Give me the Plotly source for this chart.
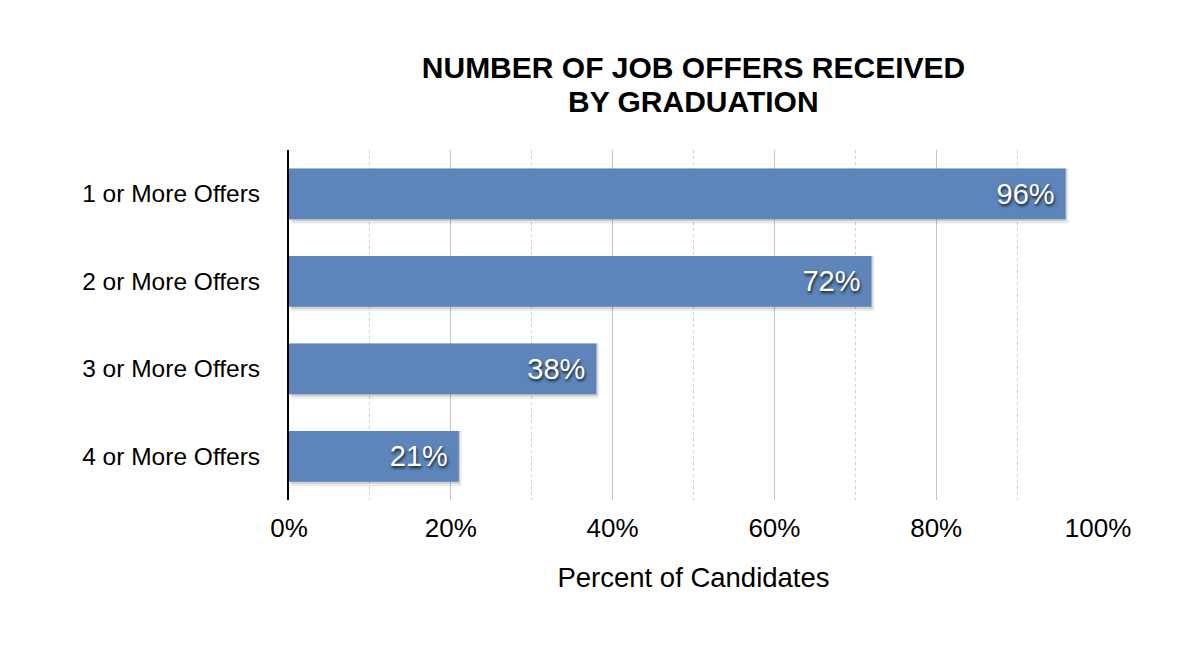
import plotly.graph_objects as go

categories = ["1 or More Offers", "2 or More Offers", "3 or More Offers", "4 or More Offers"]
percents = [96, 72, 38, 21]
tick_values = [0, 20, 40, 60, 80, 100]
tick_labels = ["0%", "20%", "40%", "60%", "80%", "100%"]

FONT = "Liberation Sans, Arial, Helvetica, sans-serif"
BAR_COLOR = "#5D85B9"

fig = go.Figure()

# soft drop shadow behind each bar
fig.add_trace(go.Bar(
    y=categories, x=percents, base=0.35, orientation="h",
    width=0.63, offset=-0.29,
    marker=dict(color="rgba(0,0,0,0.08)", line=dict(width=0)),
    hoverinfo="skip", showlegend=False,
))
fig.add_trace(go.Bar(
    y=categories, x=percents, base=0.15, orientation="h",
    width=0.605, offset=-0.29,
    marker=dict(color="rgba(0,0,0,0.12)", line=dict(width=0)),
    hoverinfo="skip", showlegend=False,
))

fig.add_trace(go.Bar(
    y=categories, x=percents, orientation="h",
    width=0.58, offset=-0.29,
    marker=dict(color=BAR_COLOR, line=dict(width=0)),
    texttemplate="%{x}%&nbsp;", textposition="inside", insidetextanchor="end",
    textfont=dict(family=FONT, size=29, color="white",
                  shadow="1px 2px 3px rgba(0,0,0,0.8)"),
    textangle=0, cliponaxis=False, showlegend=False,
))

# the page body adds an 8px offset, so margins are trimmed to compensate
fig.update_layout(
    width=1202, height=647,
    barmode="overlay",
    paper_bgcolor="white", plot_bgcolor="white",
    margin=dict(l=281, r=112, t=142, b=155),
    font=dict(family=FONT, color="black"),
    title=dict(
        text="<b>NUMBER OF JOB OFFERS RECEIVED</b>",
        x=0.5, xref="paper", xanchor="center",
        y=(647 - 59) / 647, yref="container", yanchor="middle",
        font=dict(family=FONT, size=30, color="black"),
    ),
    annotations=[dict(
        text="<b>BY GRADUATION</b>", showarrow=False,
        x=0.5, xref="paper", xanchor="center",
        y=(500 - 101) / 350, yref="paper", yanchor="middle",
        font=dict(family=FONT, size=30, color="black"),
    )],
)

fig.update_xaxes(
    range=[0, 100],
    tickvals=tick_values, ticktext=tick_labels,
    tickfont=dict(size=26, color="black"),
    ticks="outside", ticklen=5, tickcolor="rgba(0,0,0,0)",
    showgrid=True, gridcolor="#c4c4c4", gridwidth=1,
    minor=dict(dtick=10, showgrid=True, gridcolor="#d0d0d0", griddash="dot", gridwidth=1),
    zeroline=False, showline=False,
    title=dict(text="Percent of Candidates", font=dict(size=27.5, color="black"), standoff=25),
)

fig.update_yaxes(
    categoryorder="array", categoryarray=categories, autorange="reversed",
    tickfont=dict(size=24.5, color="black"),
    ticks="outside", ticklen=22, tickcolor="rgba(0,0,0,0)",
    showline=True, linecolor="black", linewidth=2,
    showgrid=False, zeroline=False,
)

fig.write_html("out.html")
